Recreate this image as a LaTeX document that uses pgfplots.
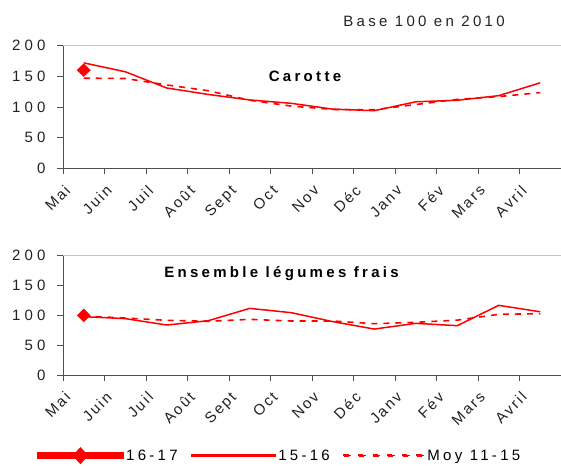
\documentclass[border=0pt]{standalone}
\usepackage{fontspec}
\setmainfont{Liberation Sans}[LetterSpace=22]
\newfontfamily\numfont{Liberation Sans}[LetterSpace=28]
\newfontfamily\monthfont{Liberation Sans}[LetterSpace=14]
\usepackage{pgfplots}
\pgfplotsset{compat=1.18}
\definecolor{axgray}{HTML}{505050}
\definecolor{bordergray}{HTML}{C4C4C4}
\definecolor{cred}{HTML}{FF0000}
\definecolor{txt}{HTML}{222222}

\pgfplotstableread{
x    a     m
0.5  172   147
1.5  157.5 146.5
2.5  131   136
3.5  120.5 126.5
4.5  111.5 111
5.5  106   101.5
6.5  96.5  96
7.5  94    95.5
8.5  108.5 104
9.5  111   112.5
10.5 118.5 117
11.5 139.5 123.5
}\carotte

\pgfplotstableread{
x    a     m
0.5  97.8  99
1.5  94.5  95.5
2.5  83.8  91.7
3.5  91    90
4.5  111.7 93.3
5.5  104.5 90.5
6.5  89.5  90.5
7.5  77    86
8.5  86.6  88.3
9.5  82.7  92
10.5 116.8 101.7
11.5 106   102.8
}\legumes

\newcommand{\fs}{\fontsize{15}{17}\selectfont}

\pgfplotsset{
  monstyle/.style={
    scale only axis,
    width=498pt,
    xmin=0, xmax=12,
    ymin=0, ymax=200,
    xtick={0,...,12},
    xticklabels={Mai,Juin,Juil,Août,Sept,Oct,Nov,Déc,Janv,Fév,Mars,Avril,{}},
    ytick={0,50,100,150,200},
    axis x line*=bottom,
    axis y line*=left,
    axis line style={axgray, line width=0.9pt, -},
    tick style={axgray, line width=0.9pt},
    tick align=outside,
    major tick length=6pt,
    /pgf/number format/assume math mode=true,
    xticklabel style={font=\monthfont\fs, text=txt, rotate=45, anchor=north east, inner sep=0pt, xshift=-6.3pt, yshift=-7.2pt},
    yticklabel style={font=\numfont\fs, text=txt, xshift=-8pt},
    clip=false,
    after end axis/.code={
      \draw[bordergray, line width=1pt] (rel axis cs:0,1) -- (rel axis cs:1,1) -- (rel axis cs:1,0);
    },
  },
  s1617/.style={draw=cred, color=cred, line width=3.5pt, mark=diamond*, mark size=6.5pt,
     mark options={solid, line width=0.3pt, draw=cred, fill=cred, xscale=1.35}},
  s1516/.style={draw=cred, color=cred, line width=1.5pt, mark=none},
  smoy/.style={draw=cred, color=cred, line width=1.6pt, dash pattern=on 6pt off 6pt, mark=none},
}

\begin{document}
\begin{tikzpicture}[x=1pt,y=1pt]
\useasboundingbox (0,0) rectangle (561,-465);

\begin{axis}[monstyle, at={(63pt,-168.3pt)}, anchor=south west, height=122.6pt]
  \addplot[smoy] table[x=x,y=m] {\carotte};
  \addplot[s1516] table[x=x,y=a] {\carotte};
  \addplot[s1617] coordinates {(0.5,160)};
\end{axis}

\begin{axis}[monstyle, at={(63pt,-375pt)}, anchor=south west, height=119.3pt,
  legend columns=3,
  reverse legend,
  legend style={at={(0.4357,-0.676)}, anchor=center, draw=none, fill=none,
    font=\fs,
    /tikz/every even column/.append style={column sep=11pt},
    nodes={inner sep=2.5pt}},
]
  \addplot[smoy, legend image code/.code={
      \foreach \i in {0,...,5} {\fill[cred] (\i*14.6pt,-0.8pt) rectangle ++(7pt,1.6pt);}}]
    table[x=x,y=m] {\legumes};
  \addlegendentry{Moy 11-15}
  \addplot[s1516, legend image code/.code={
      \fill[cred] (0pt,-0.65pt) rectangle (83pt,0.65pt);}]
    table[x=x,y=a] {\legumes};
  \addlegendentry{15-16}
  \addplot[s1617, legend image code/.code={
      \fill[cred] (0pt,-1.75pt) rectangle (83pt,1.75pt);
      \fill[cred] (41.5pt,6pt) -- (47pt,0pt) -- (41.5pt,-6pt) -- (36pt,0pt) -- cycle;}]
    coordinates {(0.5,100)};
  \addlegendentry{16-17}
\end{axis}

\node[font=\fs, text=txt] at (424,-21.5) {Base 100 en 2010};
\node[font=\fs\bfseries] at (305,-76.7) {Carotte};
\node[font=\fs\bfseries] at (281.5,-274) {Ensemble légumes frais};
\end{tikzpicture}
\end{document}
